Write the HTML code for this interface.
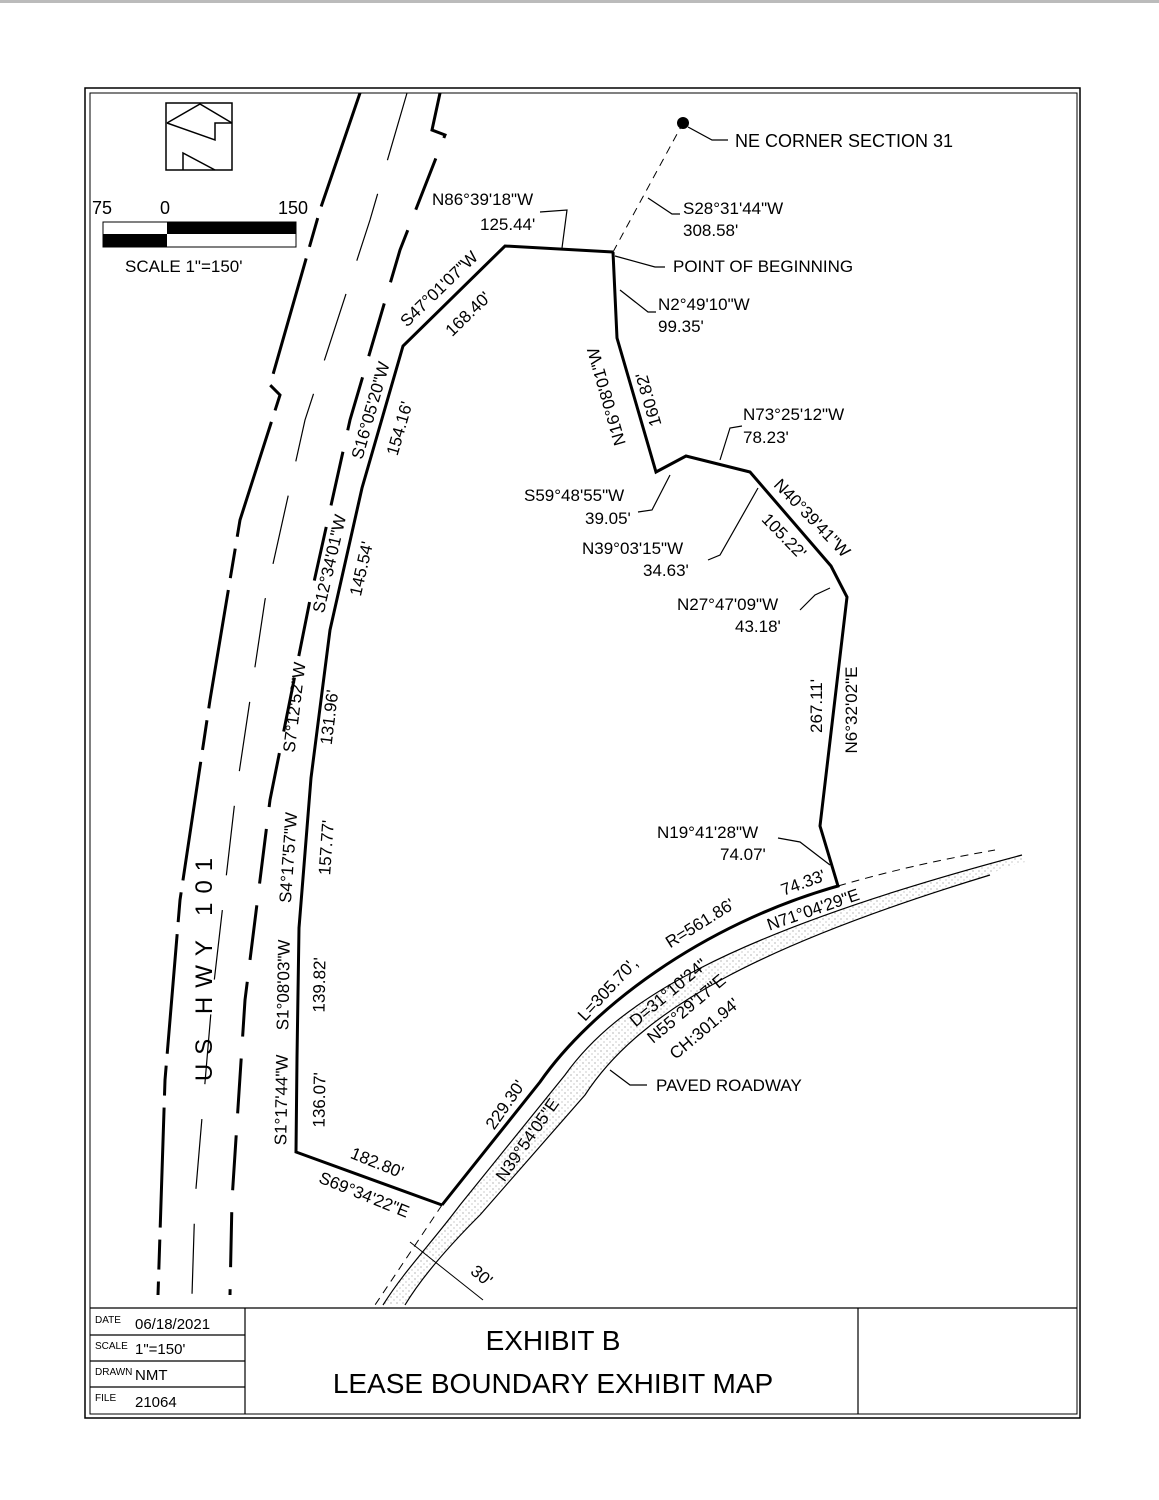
<!DOCTYPE html>
<html><head><meta charset="utf-8"><style>
html,body{margin:0;padding:0;background:#fff}
svg{display:block}
text{font-family:"Liberation Sans",sans-serif;fill:#000}
</style></head><body>
<svg width="1159" height="1500" viewBox="0 0 1159 1500" xmlns="http://www.w3.org/2000/svg">
<defs>
<pattern id="st" width="6" height="6" patternUnits="userSpaceOnUse">
<rect width="6" height="6" fill="#fff"/><circle cx="1" cy="1" r="0.6" fill="#888"/><circle cx="4" cy="4" r="0.6" fill="#aaa"/>
</pattern>
</defs>
<rect x="0" y="0" width="1159" height="3" fill="#bbb"/>
<rect x="85" y="88" width="995" height="1330" fill="none" stroke="#000" stroke-width="1.5"/>
<rect x="90" y="93" width="987" height="1321" fill="none" stroke="#000" stroke-width="1"/>

<g fill="none" stroke="#000" stroke-width="1.5">
<rect x="166" y="103" width="66" height="67"/>
<polyline points="167,123 200,104 232,123"/>
<polyline points="167,123 215,140 215,123 232,123"/>
<polyline points="183,170 183,153 215,170"/>
</g>
<rect x="103" y="222" width="193" height="25" fill="#fff" stroke="#000" stroke-width="1"/>
<rect x="167" y="222" width="129" height="12" fill="#000"/>
<rect x="103" y="234" width="64" height="13" fill="#000"/>
<text x="92" y="214" font-size="18">75</text>
<text x="160" y="214" font-size="18">0</text>
<text x="278" y="214" font-size="18">150</text>
<text x="125" y="272" font-size="17">SCALE  1"=150'</text>

<polyline points="360,93 320,210 270,385 280,395 240,520 210,700 180,900 165,1080 158,1295" fill="none" stroke="#000" stroke-width="3" stroke-dasharray="120,12,30,12"/>
<polyline points="407,93 370,220 305,420 265,600 235,800 212,1000 195,1200 192,1295" fill="none" stroke="#000" stroke-width="1.2" stroke-dasharray="70,35"/>
<polyline points="440,93 432,130 445,135 400,250 350,420 310,600 270,800 245,1000 232,1200 230,1295" fill="none" stroke="#000" stroke-width="3" stroke-dasharray="55,22"/>
<text transform="translate(212,965) rotate(-90)" font-size="24" text-anchor="middle" letter-spacing="9">US HWY 101</text>

<path d="M383,1305 C405,1270 430,1245 460,1205 L565,1075 C615,1005 720,935 1022,855 L1025,862 Q1000,868 990,875 C760,945 640,1010 585,1095 L480,1215 C445,1250 420,1280 405,1305 Z" fill="url(#st)" stroke="none"/>
<path d="M383,1305 C405,1270 430,1245 460,1205 L565,1075 C615,1005 720,935 1022,855" fill="none" stroke="#000" stroke-width="1.2"/>
<path d="M405,1305 C420,1280 445,1250 480,1215 L585,1095 C640,1010 760,945 990,875" fill="none" stroke="#000" stroke-width="1.2"/>
<path d="M442,1205 L375,1305" fill="none" stroke="#000" stroke-width="1" stroke-dasharray="8,6"/>
<path d="M838,886 C900,868 950,858 995,850" fill="none" stroke="#000" stroke-width="1" stroke-dasharray="8,6"/>
<line x1="410" y1="1242" x2="483" y2="1300" stroke="#000" stroke-width="1"/>

<polyline points="613,252 505,246 403,346 362,488 330,630 311,778 299,928 297,1058 296,1152 442,1205" fill="none" stroke="#000" stroke-width="3"/>
<path d="M442,1205 L540,1082 C590,1010 700,925 838,886 L820,826 L847,597 L831,566 L750,472 L686,456 L656,472 L617,338 L613,252" fill="none" stroke="#000" stroke-width="3"/>

<line x1="613" y1="252" x2="683" y2="123" stroke="#000" stroke-width="1" stroke-dasharray="8,6"/>
<circle cx="683" cy="123" r="6" fill="#000"/>
<polyline points="688,127 712,140 728,140" fill="none" stroke="#000" stroke-width="1.2"/>
<text x="735" y="147" font-size="18">NE CORNER SECTION 31</text>

<g fill="none" stroke="#000" stroke-width="1.2">
<polyline points="648,198 672,214 680,214"/>
<polyline points="615,256 655,267 665,267"/>
<polyline points="620,290 648,312 656,312"/>
<polyline points="540,212 567,210 562,248"/>
<polyline points="742,426 730,428 720,460"/>
<polyline points="800,610 815,595 830,588"/>
<polyline points="778,838 800,842 830,865"/>
<polyline points="638,512 652,510 670,475"/>
<polyline points="708,560 720,555 758,488"/>
<polyline points="610,1070 630,1085 647,1085"/>
</g>
<g font-size="17">
<text x="683" y="214">S28°31'44"W</text>
<text x="683" y="236">308.58'</text>
<text x="673" y="272">POINT OF BEGINNING</text>
<text x="658" y="310">N2°49'10"W</text>
<text x="658" y="332">99.35'</text>
<text x="432" y="205">N86°39'18"W</text>
<text x="480" y="230">125.44'</text>
<text x="743" y="420">N73°25'12"W</text>
<text x="743" y="443">78.23'</text>
<text x="677" y="610">N27°47'09"W</text>
<text x="735" y="632">43.18'</text>
<text x="657" y="838">N19°41'28"W</text>
<text x="720" y="860">74.07'</text>
<text x="524" y="501">S59°48'55"W</text>
<text x="585" y="524">39.05'</text>
<text x="582" y="554">N39°03'15"W</text>
<text x="643" y="576">34.63'</text>
<text x="656" y="1091">PAVED ROADWAY</text>

<text transform="translate(443,293) rotate(-44)" text-anchor="middle">S47°01'07"W</text>
<text transform="translate(472,318) rotate(-44)" text-anchor="middle">168.40'</text>
<text transform="translate(376,412) rotate(-74)" text-anchor="middle">S16°05'20"W</text>
<text transform="translate(405,430) rotate(-74)" text-anchor="middle">154.16'</text>
<text transform="translate(335,565) rotate(-77)" text-anchor="middle">S12°34'01"W</text>
<text transform="translate(367,570) rotate(-77)" text-anchor="middle">145.54'</text>
<text transform="translate(300,708) rotate(-83)" text-anchor="middle">S7°12'52"W</text>
<text transform="translate(335,718) rotate(-83)" text-anchor="middle">131.96'</text>
<text transform="translate(294,858) rotate(-86)" text-anchor="middle">S4°17'57"W</text>
<text transform="translate(332,848) rotate(-86)" text-anchor="middle">157.77'</text>
<text transform="translate(289,985) rotate(-89)" text-anchor="middle">S1°08'03"W</text>
<text transform="translate(325,985) rotate(-89)" text-anchor="middle">139.82'</text>
<text transform="translate(287,1100) rotate(-89)" text-anchor="middle">S1°17'44"W</text>
<text transform="translate(325,1100) rotate(-89)" text-anchor="middle">136.07'</text>
<text transform="translate(375,1168) rotate(22)" text-anchor="middle">182.80'</text>
<text transform="translate(362,1200) rotate(22)" text-anchor="middle">S69°34'22"E</text>
<text transform="translate(510,1108) rotate(-55)" text-anchor="middle">229.30'</text>
<text transform="translate(532,1143) rotate(-55)" text-anchor="middle">N39°54'05"E</text>
<text transform="translate(612,993) rotate(-47)" text-anchor="middle">L=305.70',</text>
<text transform="translate(703,928) rotate(-32)" text-anchor="middle">R=561.86'</text>
<text transform="translate(672,997) rotate(-40)" text-anchor="middle">D=31°10'24"</text>
<text transform="translate(690,1013) rotate(-40)" text-anchor="middle">N55°29'17"E</text>
<text transform="translate(708,1033) rotate(-40)" text-anchor="middle">CH:301.94'</text>
<text transform="translate(815,915) rotate(-19)" text-anchor="middle">N71°04'29"E</text>
<text transform="translate(805,888) rotate(-20)" text-anchor="middle">74.33'</text>
<text transform="translate(478,1280) rotate(40)" text-anchor="middle">30'</text>
<text transform="translate(612,395) rotate(-106)" text-anchor="middle">N16°08'01"W</text>
<text transform="translate(654,398) rotate(-106)" text-anchor="middle">160.82'</text>
<text transform="translate(808,522) rotate(46)" text-anchor="middle">N40°39'41"W</text>
<text transform="translate(780,540) rotate(46)" text-anchor="middle">105.22'</text>
<text transform="translate(822,706) rotate(-90)" text-anchor="middle">267.11'</text>
<text transform="translate(857,710) rotate(-90)" text-anchor="middle">N6°32'02"E</text>
</g>

<g stroke="#000" stroke-width="1.2" fill="none">
<line x1="90" y1="1308" x2="1077" y2="1308"/>
<line x1="245" y1="1308" x2="245" y2="1414"/>
<line x1="858" y1="1308" x2="858" y2="1414"/>
<line x1="90" y1="1335" x2="245" y2="1335"/>
<line x1="90" y1="1361" x2="245" y2="1361"/>
<line x1="90" y1="1387" x2="245" y2="1387"/>
</g>
<g font-size="10">
<text x="95" y="1323">DATE</text>
<text x="95" y="1349">SCALE</text>
<text x="95" y="1375">DRAWN</text>
<text x="95" y="1401">FILE</text>
</g>
<g font-size="15">
<text x="135" y="1329">06/18/2021</text>
<text x="135" y="1354">1"=150'</text>
<text x="135" y="1380">NMT</text>
<text x="135" y="1407">21064</text>
</g>
<text x="553" y="1350" font-size="28" text-anchor="middle">EXHIBIT B</text>
<text x="553" y="1393" font-size="28" text-anchor="middle">LEASE BOUNDARY EXHIBIT MAP</text>
</svg>
</body></html>
